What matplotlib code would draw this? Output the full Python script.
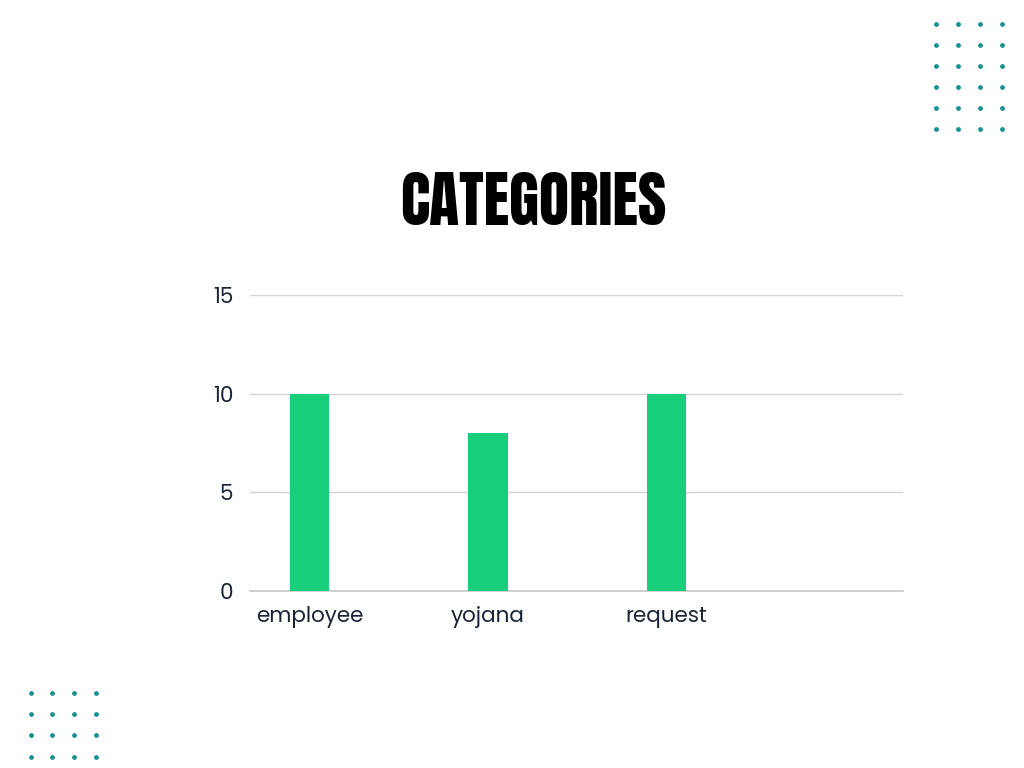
import matplotlib
matplotlib.use('Agg')
import matplotlib.pyplot as plt
from matplotlib import font_manager

# data
categories = ['employee', 'yojana', 'request']
counts = [10, 8, 10]
y_ticks = [0, 5, 10, 15]

# decoration dot grids (figure pixel coords, from top-left)
dots_tr_x = [936, 958, 980, 1002]
dots_tr_y = [24, 45, 66, 87, 108, 129]
dots_bl_x = [31, 52, 74, 96]
dots_bl_y = [693, 714, 735, 757]

green = '#17cf7a'
teal = '#1a9090'
ink = '#1b2535'

names = {f.name for f in font_manager.fontManager.ttflist}
def pick(*fams):
    for f in fams:
        if f in names:
            return f
    return 'DejaVu Sans'
title_font = pick('Anton', 'Bebas Neue', 'Oswald', 'IBM Plex Sans Condensed')
tick_font = pick('Poppins', 'Open Sans')

fig = plt.figure(figsize=(10.24, 7.68), dpi=100)
fig.patch.set_facecolor('white')

# dots
deco = fig.add_axes([0, 0, 1, 1])
deco.set_xlim(0, 1024)
deco.set_ylim(768, 0)
deco.axis('off')
for xs, ys in [(dots_tr_x, dots_tr_y), (dots_bl_x, dots_bl_y)]:
    px = [x for y in ys for x in xs]
    py = [y for y in ys for x in xs]
    deco.scatter(px, py, s=12, color=teal, linewidths=0)

# chart
ax = fig.add_axes([0.244, 0.2305, 0.638, 0.3854])
x = range(len(categories))
ax.bar(x, counts, width=0.22, color=green, zorder=3)
ax.set_xlim(-0.337, 3.33)
ax.set_ylim(0, 15)
ax.set_yticks(y_ticks)
ax.set_xticks(list(x))
ax.set_xticklabels(categories)
ax.grid(axis='y', color='#d3d3d3', linewidth=1, zorder=0)
for s in ['top', 'right', 'left']:
    ax.spines[s].set_visible(False)
ax.spines['bottom'].set_color('#c8c8c8')
ax.spines['bottom'].set_linewidth(1.2)
ax.tick_params(length=0, labelsize=15.5, labelcolor=ink)
ax.tick_params(axis='y', pad=12)
ax.tick_params(axis='x', pad=11)
for lab in ax.get_xticklabels() + ax.get_yticklabels():
    lab.set_family(tick_font)

fig.text(0.521, 0.7365, 'CATEGORIES', ha='center', va='center',
         fontsize=44.5, family=title_font, color='black')

fig.savefig('out.png', dpi=100, facecolor='white')
